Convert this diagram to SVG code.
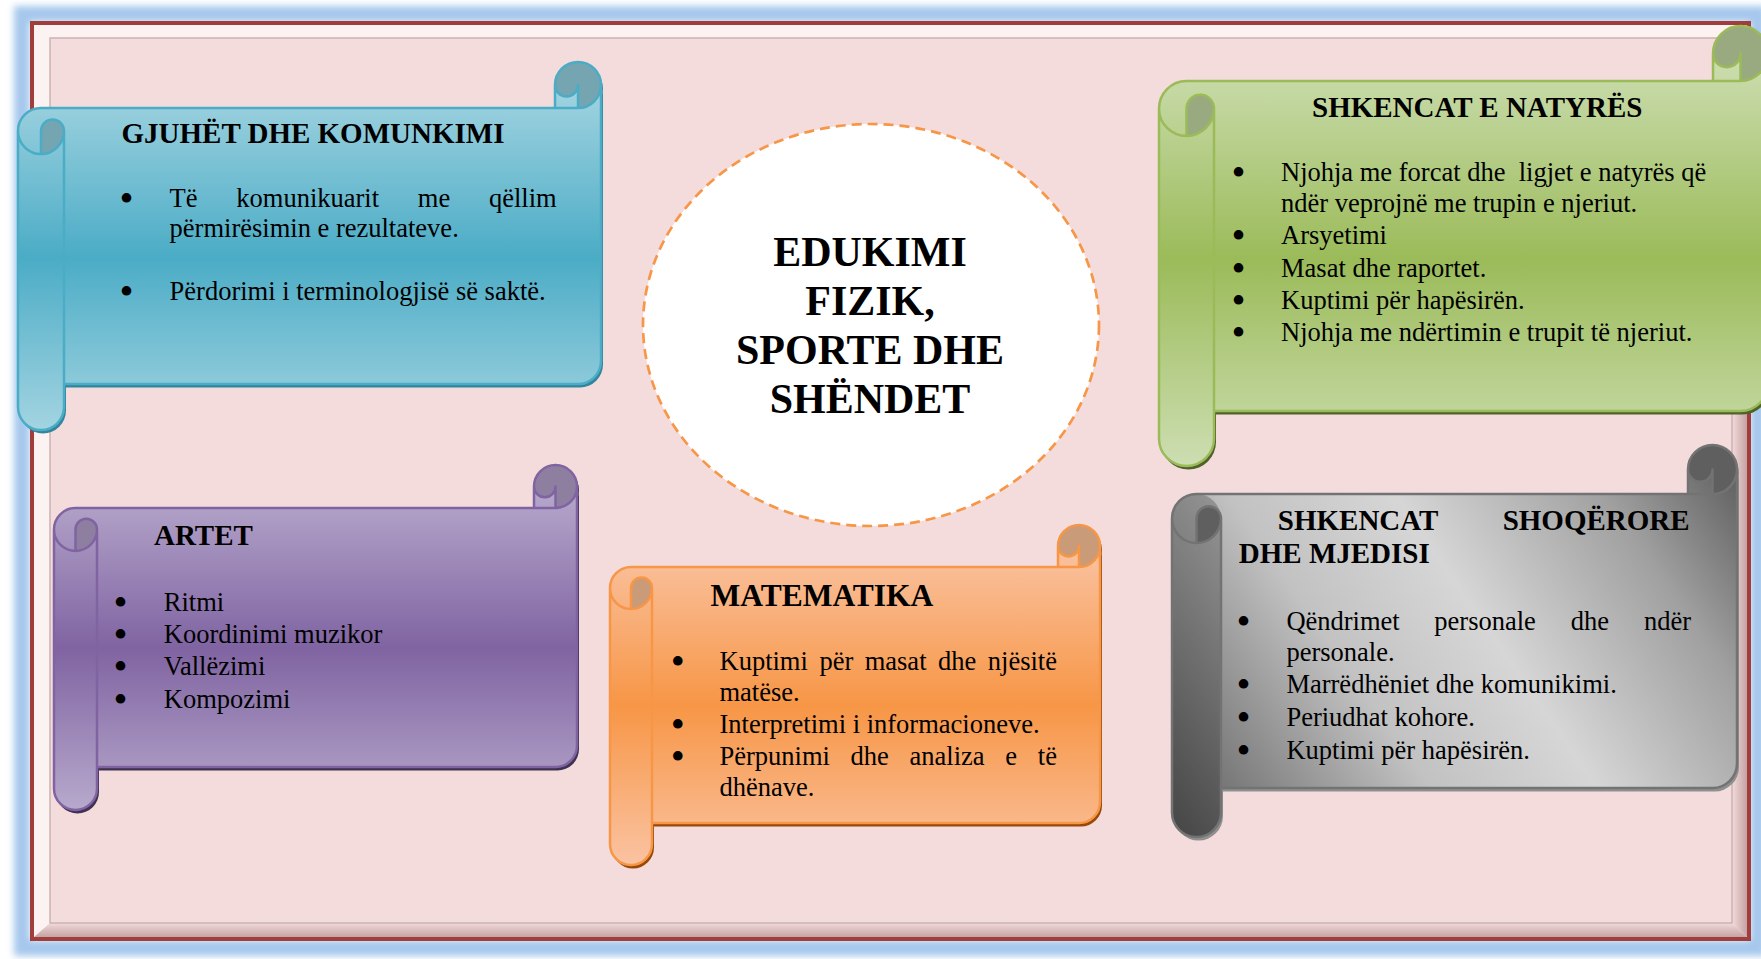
<svg xmlns="http://www.w3.org/2000/svg" width="1761" height="959" viewBox="0 0 1761 959">
<defs>
<style>
.t{font-family:"Liberation Serif","Times New Roman",serif;font-size:26.5px;fill:#000}
.h{font-weight:bold;font-size:29px}
.c{font-weight:bold;font-size:42px;text-anchor:middle}
.b{text-anchor:middle;font-size:40px}
.ln{fill:none;stroke-width:2.5;stroke-linejoin:round}
</style>
<filter id="blur" x="-5%" y="-5%" width="110%" height="110%"><feGaussianBlur stdDeviation="3.5"/></filter>
<linearGradient id="gBlue" x1="0" y1="0" x2="0" y2="1"><stop offset="0" stop-color="#A3D4E1"/><stop offset="0.5" stop-color="#4BACC6"/><stop offset="1" stop-color="#A3D4E1"/></linearGradient>
<linearGradient id="gGreen" x1="0" y1="0" x2="0" y2="1"><stop offset="0" stop-color="#CDDEB2"/><stop offset="0.5" stop-color="#9BBB59"/><stop offset="1" stop-color="#CDDEB2"/></linearGradient>
<linearGradient id="gPurple" x1="0" y1="0" x2="0" y2="1"><stop offset="0" stop-color="#B7A9CC"/><stop offset="0.5" stop-color="#8064A2"/><stop offset="1" stop-color="#B7A9CC"/></linearGradient>
<linearGradient id="gOrange" x1="0" y1="0" x2="0" y2="1"><stop offset="0" stop-color="#FAC3A2"/><stop offset="0.5" stop-color="#F79646"/><stop offset="1" stop-color="#FAC3A2"/></linearGradient>
<linearGradient id="gGray" gradientUnits="userSpaceOnUse" x1="565" y1="0" x2="0" y2="392"><stop offset="0" stop-color="#585858"/><stop offset="0.2" stop-color="#A0A0A0"/><stop offset="0.45" stop-color="#D6D6D6"/><stop offset="0.65" stop-color="#C2C2C2"/><stop offset="1" stop-color="#585858"/></linearGradient>
<linearGradient id="bevB" x1="0" y1="0" x2="0" y2="1"><stop offset="0" stop-color="#F3DADA"/><stop offset="1" stop-color="#C4A3A3"/></linearGradient>
<linearGradient id="bevR" x1="0" y1="0" x2="1" y2="0"><stop offset="0" stop-color="#F3DADA"/><stop offset="1" stop-color="#C4A3A3"/></linearGradient>
</defs>
<rect x="0" y="0" width="1761" height="959" fill="#FFFFFF"/>
<g id="frame">
<rect x="22" y="14" width="1736" height="934" fill="none" stroke="#A6C8EC" stroke-width="16" filter="url(#blur)"/>
<rect x="32" y="23" width="1717" height="916" fill="#FCF2F2" stroke="#A13E3C" stroke-width="4"/>
<polygon points="34,937 1747,937 1732,923 50,923" fill="url(#bevB)"/>
<polygon points="1747,25 1747,937 1732,923 1732,38" fill="url(#bevR)"/>
<rect x="50" y="38" width="1682" height="885" fill="#F4DCDD" stroke="#C9B3B3" stroke-width="1.5"/>
</g>
<g id="connectors"/>
<g id="node-center">
<ellipse cx="871" cy="325" rx="228" ry="201" fill="#FFFFFF" stroke="#F79646" stroke-width="2.7" stroke-dasharray="10 6"/>
<text class="t c" x="870" y="266">EDUKIMI</text>
<text class="t c" x="870" y="315">FIZIK,</text>
<text class="t c" x="870" y="364">SPORTE DHE</text>
<text class="t c" x="870" y="413">SHËNDET</text>
</g>
<g id="node-gjuhet">
<g transform="translate(18,62)">
<g transform="translate(2,3.5)" fill="#31859C"><path d="M583,23 A23,23 0 0 1 560,46 L560,23 A11.5,11.5 0 0 1 537,23 L537,46 L23,46 A23,23 0 0 0 0,69 L0,345 A23,23 0 0 0 46,345 L46,322 L560,322 A23,23 0 0 0 583,299 Z"/><path d="M560,46 A23,23 0 1 0 537,23 A11.5,11.5 0 0 0 560,23 Z"/></g>
<path d="M583,23 A23,23 0 0 1 560,46 L560,23 A11.5,11.5 0 0 1 537,23 L537,46 L23,46 A23,23 0 0 0 0,69 L0,345 A23,23 0 0 0 46,345 L46,322 L560,322 A23,23 0 0 0 583,299 Z" fill="url(#gBlue)"/>
<path d="M23,92 A23,23 0 0 0 46,69 A11.5,11.5 0 0 0 23,69 Z M560,46 A23,23 0 1 0 537,23 A11.5,11.5 0 0 0 560,23 Z" fill="#74A5B0"/>
<path class="ln" stroke="#4BACC6" d="M0,69 A23,23 0 0 1 23,46 L537,46 L537,23 A23,23 0 0 1 583,23 L583,299 A23,23 0 0 1 560,322 L46,322 L46,345 A23,23 0 0 1 0,345 Z M537,46 L560,46 A23,23 0 0 0 583,23 M560,46 L560,23 A11.5,11.5 0 0 1 537,23 M23,92 L23,69 A11.5,11.5 0 0 1 46,69 A23,23 0 0 1 0,69 M46,69 L46,322"/>
</g>
<text class="t h" x="121.5" y="143">GJUHËT DHE KOMUNKIMI</text>
<text class="t b" x="126.5" y="212">•</text>
<text class="t" y="207"><tspan x="169.6">Të</tspan><tspan x="236.3">komunikuarit</tspan><tspan x="417.8">me</tspan><tspan x="488.9">qëllim</tspan></text>
<text class="t" x="169.6" y="237">përmirësimin e rezultateve.</text>
<text class="t b" x="126.5" y="305">•</text>
<text class="t" x="169.6" y="300">Përdorimi i terminologjisë së saktë.</text>
</g>
<g id="node-natyres">
<g transform="translate(1159,26)">
<g transform="translate(2,3.5)" fill="#4F6228"><path d="M609,27.5 A27.5,27.5 0 0 1 581.5,55 L581.5,27.5 A13.75,13.75 0 0 1 554,27.5 L554,55 L27.5,55 A27.5,27.5 0 0 0 0,82.5 L0,412.5 A27.5,27.5 0 0 0 55,412.5 L55,385 L581.5,385 A27.5,27.5 0 0 0 609,357.5 Z"/><path d="M581.5,55 A27.5,27.5 0 1 0 554,27.5 A13.75,13.75 0 0 0 581.5,27.5 Z"/></g>
<path d="M609,27.5 A27.5,27.5 0 0 1 581.5,55 L581.5,27.5 A13.75,13.75 0 0 1 554,27.5 L554,55 L27.5,55 A27.5,27.5 0 0 0 0,82.5 L0,412.5 A27.5,27.5 0 0 0 55,412.5 L55,385 L581.5,385 A27.5,27.5 0 0 0 609,357.5 Z" fill="url(#gGreen)"/>
<path d="M27.5,110 A27.5,27.5 0 0 0 55,82.5 A13.75,13.75 0 0 0 27.5,82.5 Z M581.5,55 A27.5,27.5 0 1 0 554,27.5 A13.75,13.75 0 0 0 581.5,27.5 Z" fill="#9AAA80"/>
<path class="ln" stroke="#9BBB59" d="M0,82.5 A27.5,27.5 0 0 1 27.5,55 L554,55 L554,27.5 A27.5,27.5 0 0 1 609,27.5 L609,357.5 A27.5,27.5 0 0 1 581.5,385 L55,385 L55,412.5 A27.5,27.5 0 0 1 0,412.5 Z M554,55 L581.5,55 A27.5,27.5 0 0 0 609,27.5 M581.5,55 L581.5,27.5 A13.75,13.75 0 0 1 554,27.5 M27.5,110 L27.5,82.5 A13.75,13.75 0 0 1 55,82.5 A27.5,27.5 0 0 1 0,82.5 M55,82.5 L55,385"/>
</g>
<text class="t h" x="1312" y="117">SHKENCAT E NATYRËS</text>
<text class="t b" x="1238.5" y="186">•</text>
<text class="t" x="1281" y="181" xml:space="preserve">Njohja me forcat dhe  ligjet e natyrës që</text>
<text class="t" x="1281" y="212">ndër veprojnë me trupin e njeriut.</text>
<text class="t b" x="1238.5" y="249">•</text>
<text class="t" x="1281" y="244">Arsyetimi</text>
<text class="t b" x="1238.5" y="282">•</text>
<text class="t" x="1281" y="277">Masat dhe raportet.</text>
<text class="t b" x="1238.5" y="314">•</text>
<text class="t" x="1281" y="309">Kuptimi për hapësirën.</text>
<text class="t b" x="1238.5" y="346">•</text>
<text class="t" x="1281" y="341">Njohja me ndërtimin e trupit të njeriut.</text>
</g>
<g id="node-artet">
<g transform="translate(54,465)">
<g transform="translate(2,3.5)" fill="#3F3151"><path d="M523,21.5 A21.5,21.5 0 0 1 501.5,43 L501.5,21.5 A10.75,10.75 0 0 1 480,21.5 L480,43 L21.5,43 A21.5,21.5 0 0 0 0,64.5 L0,323.5 A21.5,21.5 0 0 0 43,323.5 L43,302 L501.5,302 A21.5,21.5 0 0 0 523,280.5 Z"/><path d="M501.5,43 A21.5,21.5 0 1 0 480,21.5 A10.75,10.75 0 0 0 501.5,21.5 Z"/></g>
<path d="M523,21.5 A21.5,21.5 0 0 1 501.5,43 L501.5,21.5 A10.75,10.75 0 0 1 480,21.5 L480,43 L21.5,43 A21.5,21.5 0 0 0 0,64.5 L0,323.5 A21.5,21.5 0 0 0 43,323.5 L43,302 L501.5,302 A21.5,21.5 0 0 0 523,280.5 Z" fill="url(#gPurple)"/>
<path d="M21.5,86 A21.5,21.5 0 0 0 43,64.5 A10.75,10.75 0 0 0 21.5,64.5 Z M501.5,43 A21.5,21.5 0 1 0 480,21.5 A10.75,10.75 0 0 0 501.5,21.5 Z" fill="#8E7FA1"/>
<path class="ln" stroke="#8064A2" d="M0,64.5 A21.5,21.5 0 0 1 21.5,43 L480,43 L480,21.5 A21.5,21.5 0 0 1 523,21.5 L523,280.5 A21.5,21.5 0 0 1 501.5,302 L43,302 L43,323.5 A21.5,21.5 0 0 1 0,323.5 Z M480,43 L501.5,43 A21.5,21.5 0 0 0 523,21.5 M501.5,43 L501.5,21.5 A10.75,10.75 0 0 1 480,21.5 M21.5,86 L21.5,64.5 A10.75,10.75 0 0 1 43,64.5 A21.5,21.5 0 0 1 0,64.5 M43,64.5 L43,302"/>
</g>
<text class="t h" x="154" y="545">ARTET</text>
<text class="t b" x="120.5" y="616">•</text>
<text class="t" x="163.8" y="611">Ritmi</text>
<text class="t b" x="120.5" y="648">•</text>
<text class="t" x="163.8" y="643">Koordinimi muzikor</text>
<text class="t b" x="120.5" y="680">•</text>
<text class="t" x="163.8" y="675">Vallëzimi</text>
<text class="t b" x="120.5" y="713">•</text>
<text class="t" x="163.8" y="708">Kompozimi</text>
</g>
<g id="node-matematika">
<g transform="translate(610,525)">
<g transform="translate(2,3.5)" fill="#984807"><path d="M490,21 A21,21 0 0 1 469,42 L469,21 A10.5,10.5 0 0 1 448,21 L448,42 L21,42 A21,21 0 0 0 0,63 L0,319 A21,21 0 0 0 42,319 L42,298 L469,298 A21,21 0 0 0 490,277 Z"/><path d="M469,42 A21,21 0 1 0 448,21 A10.5,10.5 0 0 0 469,21 Z"/></g>
<path d="M490,21 A21,21 0 0 1 469,42 L469,21 A10.5,10.5 0 0 1 448,21 L448,42 L21,42 A21,21 0 0 0 0,63 L0,319 A21,21 0 0 0 42,319 L42,298 L469,298 A21,21 0 0 0 490,277 Z" fill="url(#gOrange)"/>
<path d="M21,84 A21,21 0 0 0 42,63 A10.5,10.5 0 0 0 21,63 Z M469,42 A21,21 0 1 0 448,21 A10.5,10.5 0 0 0 469,21 Z" fill="#C99B78"/>
<path class="ln" stroke="#F79646" d="M0,63 A21,21 0 0 1 21,42 L448,42 L448,21 A21,21 0 0 1 490,21 L490,277 A21,21 0 0 1 469,298 L42,298 L42,319 A21,21 0 0 1 0,319 Z M448,42 L469,42 A21,21 0 0 0 490,21 M469,42 L469,21 A10.5,10.5 0 0 1 448,21 M21,84 L21,63 A10.5,10.5 0 0 1 42,63 A21,21 0 0 1 0,63 M42,63 L42,298"/>
</g>
<text class="t h" x="710.5" y="606" style="font-size:31.5px">MATEMATIKA</text>
<text class="t b" x="677.8" y="675">•</text>
<text class="t" y="670"><tspan x="719.5">Kuptimi</tspan><tspan x="819.4">për</tspan><tspan x="864.7">masat</tspan><tspan x="938">dhe</tspan><tspan x="987.8">njësitë</tspan></text>
<text class="t" x="719.5" y="701">matëse.</text>
<text class="t b" x="677.8" y="738">•</text>
<text class="t" x="719.5" y="733">Interpretimi i informacioneve.</text>
<text class="t b" x="677.8" y="770">•</text>
<text class="t" y="765"><tspan x="719.5">Përpunimi</tspan><tspan x="850.6">dhe</tspan><tspan x="909.6">analiza</tspan><tspan x="1005.3">e</tspan><tspan x="1037.8">të</tspan></text>
<text class="t" x="719.5" y="796">dhënave.</text>
</g>
<g id="node-shoqerore">
<g transform="translate(1172,445)">
<g transform="translate(2,3.5)" fill="#8F8F8F"><path d="M565,24.5 A24.5,24.5 0 0 1 540.5,49 L540.5,24.5 A12.25,12.25 0 0 1 516,24.5 L516,49 L24.5,49 A24.5,24.5 0 0 0 0,73.5 L0,367.5 A24.5,24.5 0 0 0 49,367.5 L49,343 L540.5,343 A24.5,24.5 0 0 0 565,318.5 Z"/><path d="M540.5,49 A24.5,24.5 0 1 0 516,24.5 A12.25,12.25 0 0 0 540.5,24.5 Z"/></g>
<path d="M565,24.5 A24.5,24.5 0 0 1 540.5,49 L540.5,24.5 A12.25,12.25 0 0 1 516,24.5 L516,49 L24.5,49 A24.5,24.5 0 0 0 0,73.5 L0,367.5 A24.5,24.5 0 0 0 49,367.5 L49,343 L540.5,343 A24.5,24.5 0 0 0 565,318.5 Z" fill="url(#gGray)"/>
<rect x="0" y="49" width="49" height="343" rx="24.5" fill="#000" fill-opacity="0.22"/>
<path d="M24.5,98 A24.5,24.5 0 0 0 49,73.5 A12.25,12.25 0 0 0 24.5,73.5 Z M540.5,49 A24.5,24.5 0 1 0 516,24.5 A12.25,12.25 0 0 0 540.5,24.5 Z" fill="#5F5F5F"/>
<path class="ln" stroke="#737373" d="M0,73.5 A24.5,24.5 0 0 1 24.5,49 L516,49 L516,24.5 A24.5,24.5 0 0 1 565,24.5 L565,318.5 A24.5,24.5 0 0 1 540.5,343 L49,343 L49,367.5 A24.5,24.5 0 0 1 0,367.5 Z M516,49 L540.5,49 A24.5,24.5 0 0 0 565,24.5 M540.5,49 L540.5,24.5 A12.25,12.25 0 0 1 516,24.5 M24.5,98 L24.5,73.5 A12.25,12.25 0 0 1 49,73.5 A24.5,24.5 0 0 1 0,73.5 M49,73.5 L49,343"/>
</g>
<text class="t h" y="530"><tspan x="1277.8">SHKENCAT</tspan><tspan x="1502.7">SHOQËRORE</tspan></text>
<text class="t h" x="1238.8" y="563">DHE MJEDISI</text>
<text class="t b" x="1243.5" y="635">•</text>
<text class="t" y="630"><tspan x="1286.4">Qëndrimet</tspan><tspan x="1434.3">personale</tspan><tspan x="1570.7">dhe</tspan><tspan x="1643.9">ndër</tspan></text>
<text class="t" x="1286.4" y="661">personale.</text>
<text class="t b" x="1243.5" y="698">•</text>
<text class="t" x="1286.4" y="693">Marrëdhëniet dhe komunikimi.</text>
<text class="t b" x="1243.5" y="731">•</text>
<text class="t" x="1286.4" y="726">Periudhat kohore.</text>
<text class="t b" x="1243.5" y="764">•</text>
<text class="t" x="1286.4" y="759">Kuptimi për hapësirën.</text>
</g>
</svg>
